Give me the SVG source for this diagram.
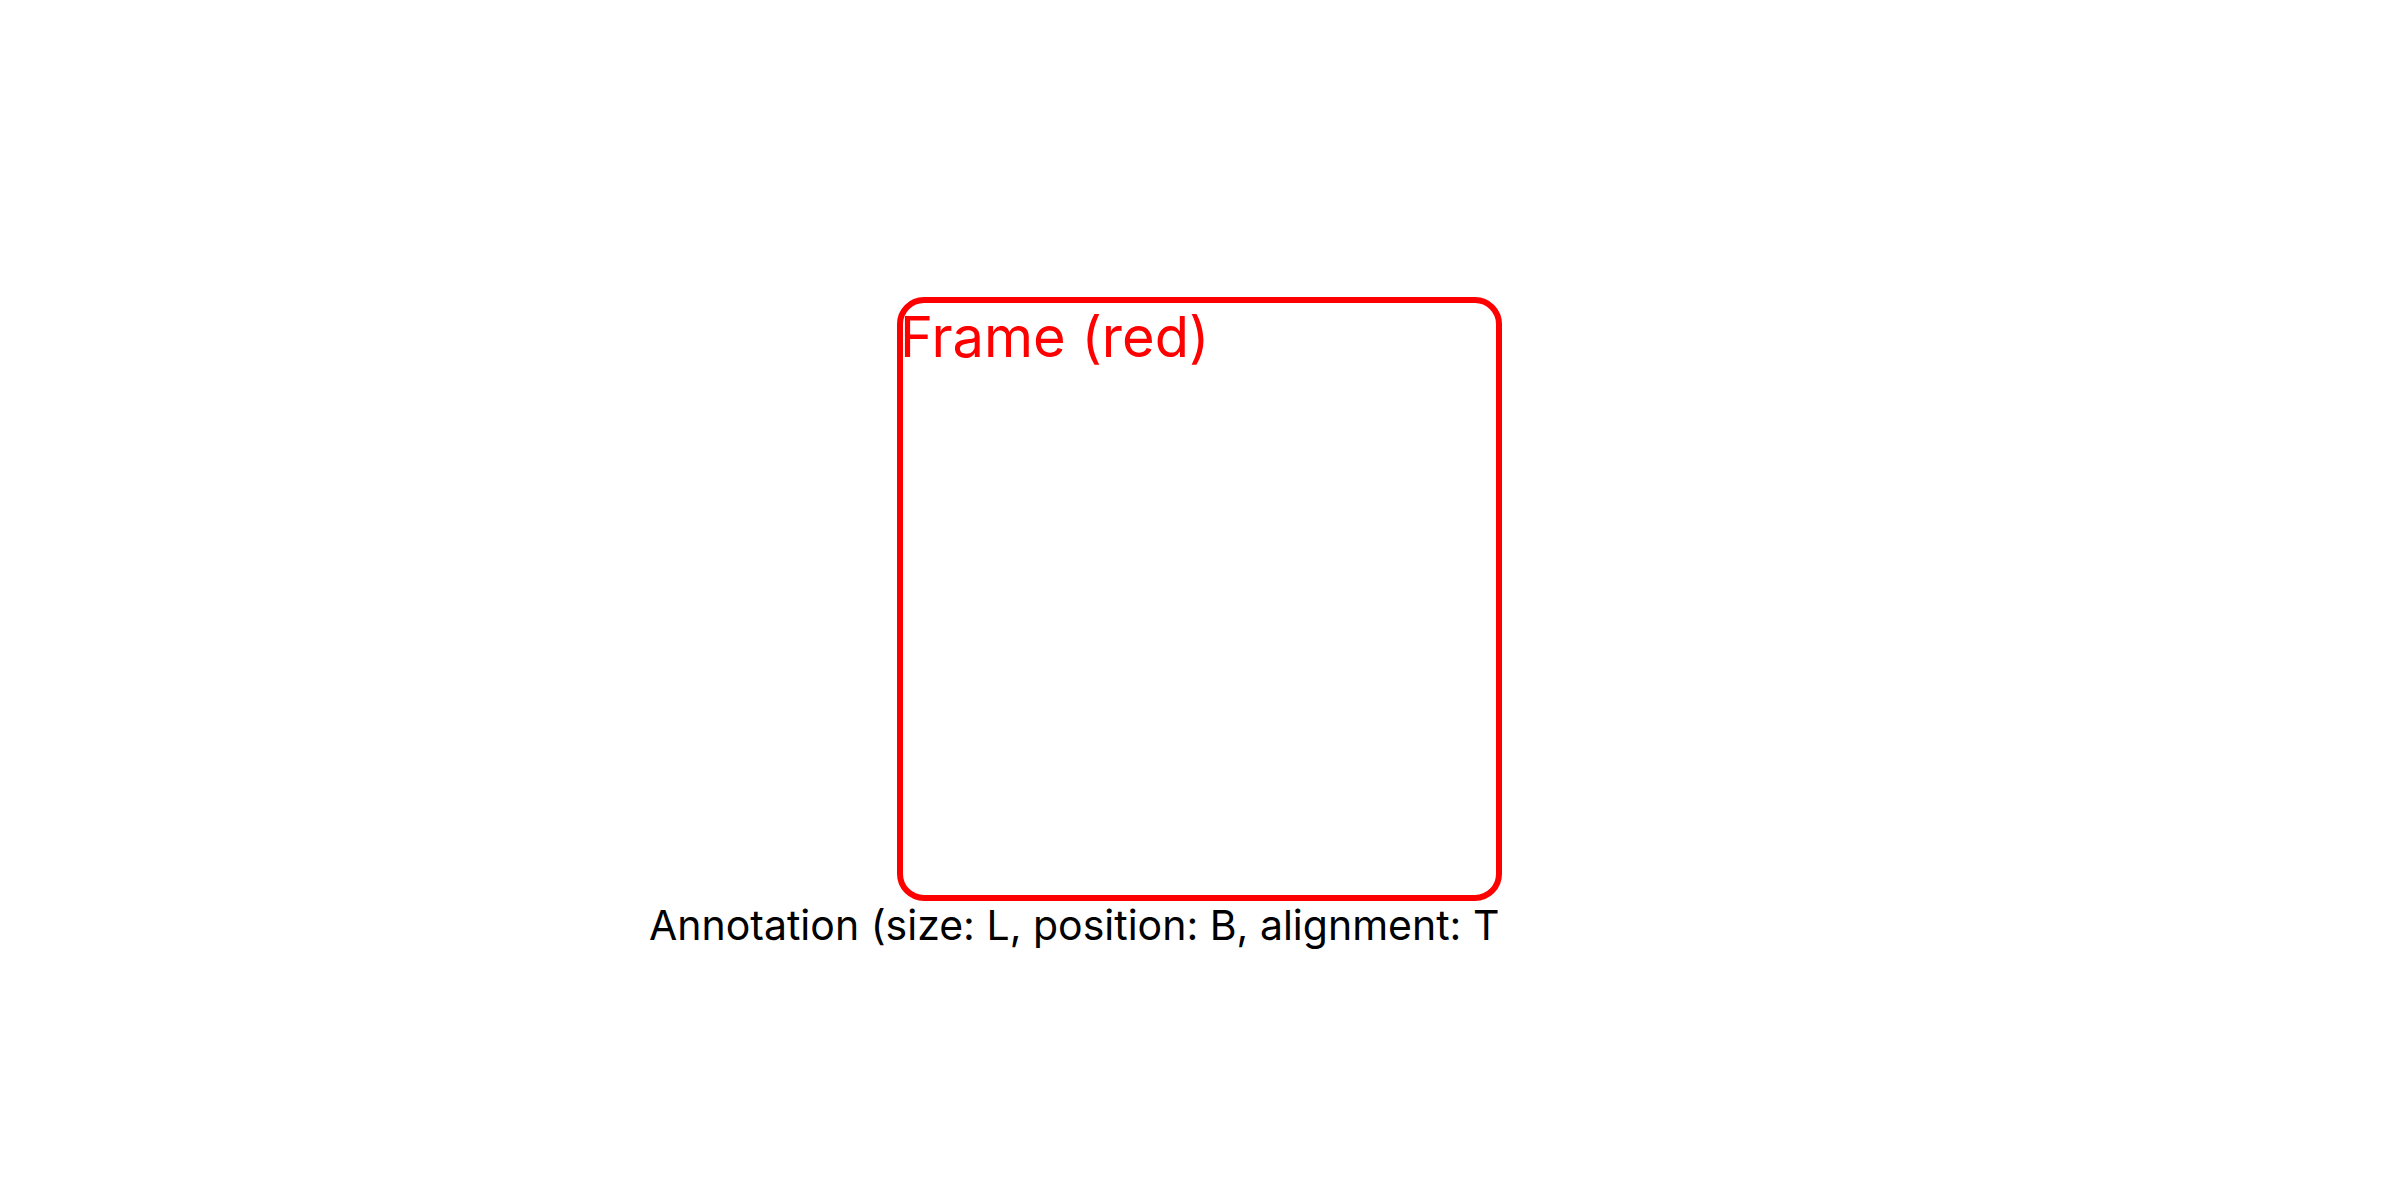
<svg xmlns="http://www.w3.org/2000/svg" width="2400" height="1200" viewBox="0 0 2400 1200">
<style>
.frame{fill:none;stroke:#ff0000;stroke-width:6}
.title{font-family:Inter,"Liberation Sans",sans-serif;font-size:56px;fill:#ff0000}
.ann{font-family:Inter,"Liberation Sans",sans-serif;font-size:41px;fill:#000000}
</style>
<rect width="2400" height="1200" fill="#ffffff"/>
<g id="frame-red">
<rect class="frame" x="900" y="300" width="599" height="598" rx="24" ry="24"/>
<text class="title" x="900" y="357">Frame (red)</text>
</g>
<g id="annotation">
<text class="ann" x="649" y="940">Annotation (size: L, position: B, alignment: T</text>
</g>
<g id="connectors"/>
</svg>
